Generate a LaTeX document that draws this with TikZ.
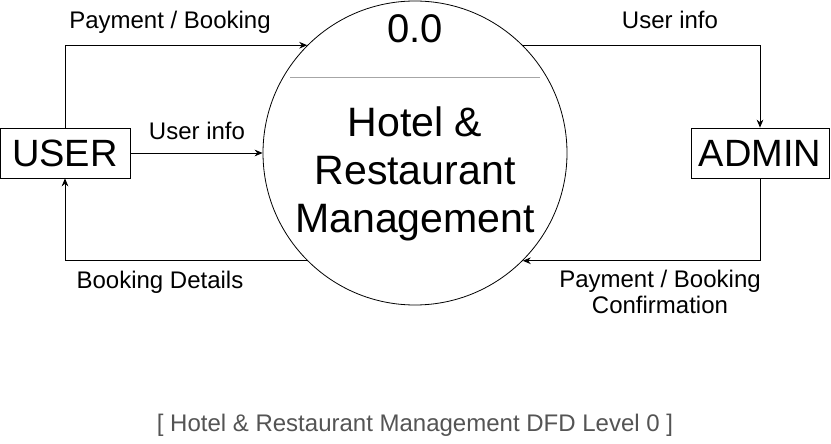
\documentclass[tikz,border=0pt]{standalone}
\usepackage{fontspec}
\setmainfont{Liberation Sans}
\usetikzlibrary{arrows.meta, positioning, calc}

\begin{document}
\begin{tikzpicture}[x=0.75pt, y=0.75pt,
    entity/.style={draw, line width=0.6pt, inner sep=0pt, minimum height=37.5pt, font=\fontsize{28.5}{34}\selectfont},
    process/.style={draw, circle, line width=0.6pt, inner sep=0pt, minimum size=228pt},
    flow/.style={line width=0.6pt, -{Stealth[length=6pt, width=5pt]}},
    flowlabel/.style={anchor=base, inner sep=0pt, align=center, font=\fontsize{18}{19.5}\selectfont}]
        \useasboundingbox (0,0) rectangle (831,443);

        % Process
        \node[process] (proc) at (415,290) {};
        \draw[gray!70, line width=0.6pt] (290,366) -- (540,366);
        \node[anchor=base, inner sep=0pt, font=\fontsize{30}{36}\selectfont] (procid) at (415,400) {0.0};
        \node[anchor=base, inner sep=0pt, align=center, font=\fontsize{30.8}{36}\selectfont] (procname) at (415,210) {Hotel \&\\Restaurant\\Management};

        % Entities
        \node[entity, minimum width=97.5pt] (user) at (65,290) {USER};
        \node[entity, minimum width=103.5pt] (admin) at (760,290) {ADMIN};

        % Flows
        \draw[flow] (user.north) |- (proc.135);
        \draw[flow] (user.east) -- (proc.west);
        \draw[flow] (proc.225) -| (user.south);
        \draw[flow] (proc.45) -| (admin.north);
        \draw[flow] (admin.south) |- (proc.-45);

        % Flow labels
        \node[flowlabel] (paybook) at (170,414) {Payment / Booking};
        \node[flowlabel] (userinfoin) at (197,303) {User info};
        \node[flowlabel] (bookdet) at (160,155) {Booking Details};
        \node[flowlabel] (userinfoout) at (670,414) {User info};
        \node[flowlabel] (payconf) at (660,130) {Payment / Booking\\Confirmation};

        % Caption
        \node[anchor=base, inner sep=0pt, text=black!67, font=\fontsize{18}{20}\selectfont] (caption) at (415,12) {[ Hotel \& Restaurant Management DFD Level 0 ]};
    \end{tikzpicture}
\end{document}
